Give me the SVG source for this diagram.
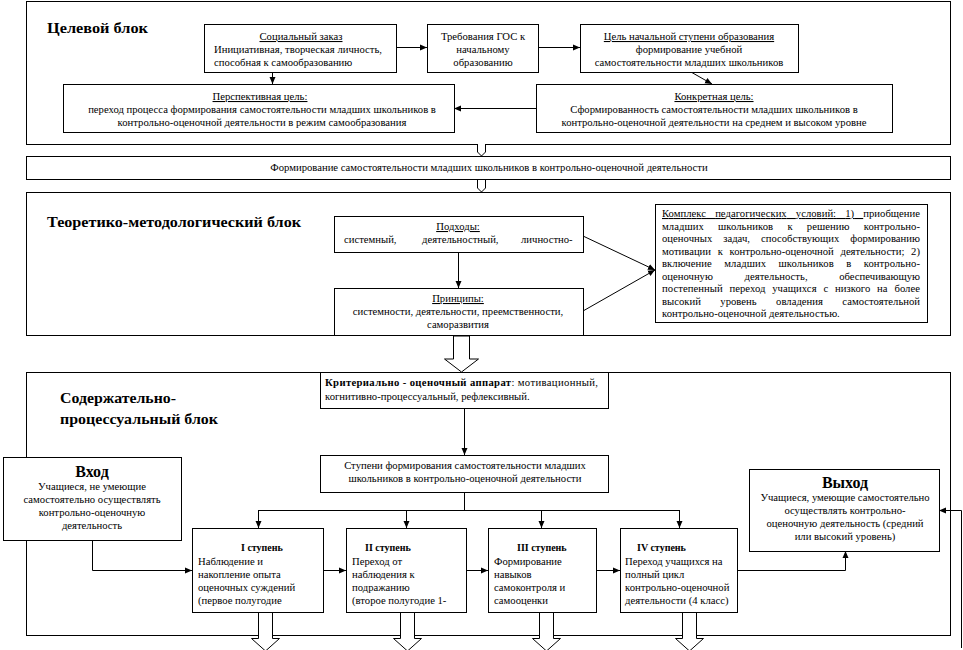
<svg xmlns="http://www.w3.org/2000/svg" width="963" height="650" viewBox="0 0 963 650">
<style>
.blk{fill:#fff;stroke:#000;stroke-width:1}
.box{fill:#fff;stroke:#000;stroke-width:1}
.ln{fill:none;stroke:#000;stroke-width:1}
.ha{fill:#fff;stroke:#000;stroke-width:1}
text{font-family:"Liberation Serif","Times New Roman",serif;font-size:10.67px;fill:#000}
.c{text-anchor:middle}
.u{text-decoration:underline}
.title{font-size:15px;font-weight:bold}
.big{font-size:16px;font-weight:bold}
.b{font-weight:bold}
.st{font-weight:bold;font-size:10px}
</style>
<defs>
<marker id="ar" markerWidth="8" markerHeight="8" refX="7" refY="4" orient="auto" markerUnits="userSpaceOnUse">
<path d="M0,1 L7,4 L0,7 Z" fill="#000"/>
</marker>
</defs>

<g id="block-goal">
<rect class="blk" x="26.5" y="1.5" width="924" height="143"/>
<text class="title" x="47" y="33" textLength="101" lengthAdjust="spacingAndGlyphs">Целевой блок</text>
</g>
<g id="block-theory">
<rect class="blk" x="26.5" y="192.5" width="924" height="143"/>
<text class="title" x="47" y="227" textLength="254" lengthAdjust="spacingAndGlyphs">Теоретико-методологический блок</text>
</g>
<g id="block-content">
<rect class="blk" x="26.5" y="372.5" width="924" height="263"/>
<text class="title" x="60" y="403" textLength="116" lengthAdjust="spacingAndGlyphs">Содержательно-</text>
<text class="title" x="60" y="424" textLength="158" lengthAdjust="spacingAndGlyphs">процессуальный блок</text>
</g>

<g id="connectors">
<path class="ln" d="M396.5,47.5 H427" marker-end="url(#ar)"/>
<path class="ln" d="M538.5,47.5 H580" marker-end="url(#ar)"/>
<path class="ln" d="M272.5,72 V84" marker-end="url(#ar)"/>
<path class="ln" d="M691,72 L712,84" marker-end="url(#ar)"/>
<path class="ln" d="M536,108.5 H454" marker-end="url(#ar)"/>
<path class="ha" d="M477.5,144 V152 L481.5,156 L485.5,152 V144"/>
<path class="ha" d="M477.5,179 V188 L481.5,192 L485.5,188 V179"/>
<path class="ln" d="M458.5,252 V288" marker-end="url(#ar)"/>
<path class="ln" d="M583,236 L655,270" marker-end="url(#ar)"/>
<path class="ln" d="M583,311 L655,270" marker-end="url(#ar)"/>
<path class="ha" d="M453.5,336 V359 H444.5 L461.5,372 L478.5,359 H469.5 V336 Z"/>
<path class="ln" d="M464.5,408 V455" marker-end="url(#ar)"/>
<path class="ln" d="M464.5,492 V510.5"/>
<path class="ln" d="M258.5,510.5 H679.5"/>
<path class="ln" d="M258.5,510 V528" marker-end="url(#ar)"/>
<path class="ln" d="M406.5,510 V528" marker-end="url(#ar)"/>
<path class="ln" d="M541.5,510 V528" marker-end="url(#ar)"/>
<path class="ln" d="M679.5,510 V528" marker-end="url(#ar)"/>
<path class="ln" d="M92.5,540 V570.5 H192" marker-end="url(#ar)"/>
<path class="ln" d="M323,570.5 H346" marker-end="url(#ar)"/>
<path class="ln" d="M466,570.5 H488" marker-end="url(#ar)"/>
<path class="ln" d="M596,570.5 H620" marker-end="url(#ar)"/>
<path class="ln" d="M737,570.5 H845.5 V551" marker-end="url(#ar)"/>
<path class="ln" d="M961.5,648 V510.5 H939" marker-end="url(#ar)"/>
<path class="ha" d="M258.5,612 V638.5 H251.5 L265.5,651 L279.5,638.5 H272.5 V612"/>
<path class="ha" d="M400.5,612 V638.5 H393.5 L407.5,651 L421.5,638.5 H414.5 V612"/>
<path class="ha" d="M539.5,612 V638.5 H532.5 L546.5,651 L560.5,638.5 H553.5 V612"/>
<path class="ha" d="M682.5,612 V638.5 H675.5 L689.5,651 L703.5,638.5 H696.5 V612"/>
</g>

<g id="social">
<rect class="box" x="204.5" y="24.5" width="192" height="48"/>
<text class="c u" x="301" y="40">Социальный заказ</text>
<text x="214" y="53">Инициативная, творческая личность,</text>
<text x="214" y="66">способная к самообразованию</text>
</g>
<g id="gos">
<rect class="box" x="427.5" y="24.5" width="111" height="48"/>
<text class="c" x="483" y="40">Требования ГОС к</text>
<text class="c" x="483" y="53">начальному</text>
<text class="c" x="483" y="66">образованию</text>
</g>
<g id="goal-primary">
<rect class="box" x="580.5" y="24.5" width="218" height="48"/>
<text class="c u" x="689" y="40">Цель начальной ступени образования</text>
<text class="c" x="689" y="53">формирование учебной</text>
<text class="c" x="689" y="66">самостоятельности  младших школьников</text>
</g>
<g id="goal-perspective">
<rect class="box" x="63.5" y="84.5" width="391" height="48"/>
<text class="c u" x="260" y="100">Перспективная цель:</text>
<text class="c" x="262" y="113">переход процесса формирования самостоятельности младших школьников в</text>
<text class="c" x="262" y="126">контрольно-оценочной деятельности в режим самообразования</text>
</g>
<g id="goal-concrete">
<rect class="box" x="536.5" y="84.5" width="356" height="48"/>
<text class="c u" x="714" y="100">Конкретная цель:</text>
<text class="c" x="714" y="113">Сформированность самостоятельности младших школьников в</text>
<text class="c" x="714" y="126">контрольно-оценочной деятельности на среднем и высоком уровне</text>
</g>

<g id="formation-bar">
<rect class="box" x="26.5" y="156.5" width="924" height="23"/>
<text class="c" x="489" y="171">Формирование самостоятельности младших школьников в контрольно-оценочной деятельности</text>
</g>

<g id="approaches">
<rect class="box" x="334.5" y="216.5" width="249" height="36"/>
<text class="c u" x="458" y="230">Подходы:</text>
<text y="243"><tspan x="344">системный,</tspan><tspan x="422">деятельностный,</tspan><tspan x="521">личностно-</tspan></text>
</g>
<g id="principles">
<rect class="box" x="334.5" y="288.5" width="249" height="47"/>
<text class="c u" x="458" y="302">Принципы:</text>
<text class="c" x="458" y="315">системности, деятельности, преемственности,</text>
<text class="c" x="458" y="328">саморазвития</text>
</g>
<g id="conditions">
<rect class="box" x="655.5" y="204.5" width="272" height="118"/>
<text x="662" y="217" word-spacing="6.4" textLength="258" lengthAdjust="spacing"><tspan class="u">Комплекс педагогических условий: 1) </tspan>приобщение</text>
<text x="662" y="229.5" word-spacing="11.5" textLength="258" lengthAdjust="spacing">младших школьников к решению контрольно-</text>
<text x="662" y="242" word-spacing="8.2" textLength="258" lengthAdjust="spacing">оценочных задач, способствующих формированию</text>
<text x="662" y="254.5" word-spacing="4" textLength="258" lengthAdjust="spacing">мотивации к контрольно-оценочной деятельности; 2)</text>
<text x="662" y="267" word-spacing="9.7" textLength="258" lengthAdjust="spacing">включение младших школьников в контрольно-</text>
<text x="662" y="279.5" word-spacing="29" textLength="258" lengthAdjust="spacing">оценочную деятельность, обеспечивающую</text>
<text x="662" y="292" word-spacing="4.1" textLength="258" lengthAdjust="spacing">постепенный переход учащихся с низкого на более</text>
<text x="662" y="304.5" word-spacing="16.8" textLength="258" lengthAdjust="spacing">высокий уровень овладения самостоятельной</text>
<text x="662" y="317">контрольно-оценочной деятельностью.</text>
</g>

<g id="criteria">
<rect class="box" x="320.5" y="372.5" width="288" height="36"/>
<text x="325" y="386" textLength="273" lengthAdjust="spacing"><tspan class="b">Критериально - оценочный аппарат</tspan>: мотивационный,</text>
<text x="325" y="400">когнитивно-процессуальный, рефлексивный.</text>
</g>
<g id="stages">
<rect class="box" x="320.5" y="455.5" width="288" height="37"/>
<text class="c" x="465" y="469">Ступени формирования самостоятельности младших</text>
<text class="c" x="465" y="482">школьников в контрольно-оценочной деятельности</text>
</g>
<g id="input">
<rect class="box" x="3.5" y="457.5" width="178" height="83"/>
<text class="c big" x="92" y="477">Вход</text>
<text class="c" x="92" y="490">Учащиеся, не умеющие</text>
<text class="c" x="92" y="503">самостоятельно осуществлять</text>
<text class="c" x="92" y="516">контрольно-оценочную</text>
<text class="c" x="92" y="529">деятельность</text>
</g>
<g id="stage1">
<rect class="box" x="192.5" y="528.5" width="131" height="84"/>
<text class="st" x="241" y="551">I ступень</text>
<text x="198" y="565">Наблюдение и</text>
<text x="198" y="578">накопление опыта</text>
<text x="198" y="591">оценочных суждений</text>
<text x="198" y="604">(первое полугодие</text>
</g>
<g id="stage2">
<rect class="box" x="346.5" y="528.5" width="120" height="84"/>
<text class="st" x="365" y="551">II ступень</text>
<text x="352" y="565">Переход от</text>
<text x="352" y="578">наблюдения к</text>
<text x="352" y="591">подражанию</text>
<text x="352" y="604">(второе полугодие 1-</text>
</g>
<g id="stage3">
<rect class="box" x="488.5" y="528.5" width="108" height="84"/>
<text class="st" x="517" y="551">III ступень</text>
<text x="494" y="565">Формирование</text>
<text x="494" y="578">навыков</text>
<text x="494" y="591">самоконтроля и</text>
<text x="494" y="604">самооценки</text>
</g>
<g id="stage4">
<rect class="box" x="620.5" y="528.5" width="117" height="84"/>
<text class="st" x="637" y="551">IV ступень</text>
<text x="625" y="565">Переход учащихся на</text>
<text x="625" y="578">полный цикл</text>
<text x="625" y="591">контрольно-оценочной</text>
<text x="625" y="604">деятельности (4 класс)</text>
</g>
<g id="output">
<rect class="box" x="749.5" y="469.5" width="190" height="82"/>
<text class="c big" x="845" y="488">Выход</text>
<text class="c" x="845" y="501">Учащиеся, умеющие самостоятельно</text>
<text class="c" x="845" y="514">осуществлять контрольно-</text>
<text class="c" x="845" y="527">оценочную деятельность (средний</text>
<text class="c" x="845" y="540">или высокий уровень)</text>
</g>
</svg>
